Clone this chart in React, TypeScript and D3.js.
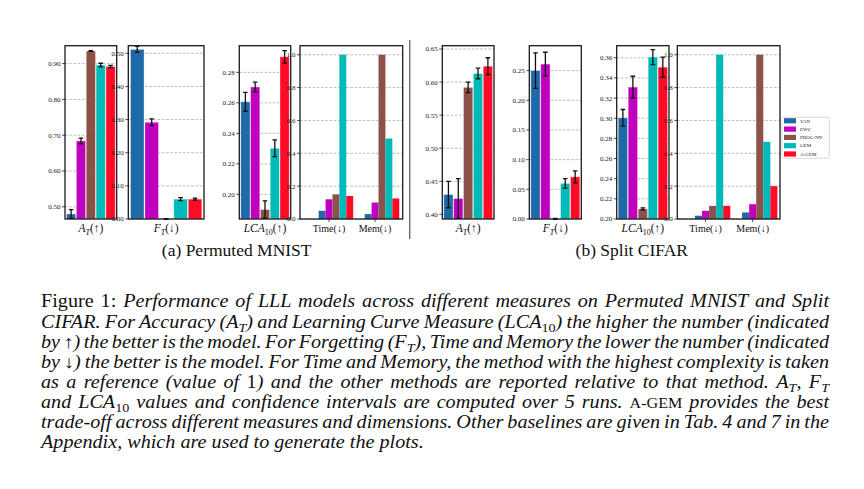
import * as d3 from 'd3';
import { useEffect, useRef } from 'react';

const methods = ['VAN', 'EWC', 'PROG-NN', 'GEM', 'A-GEM'];
const methodColors = ['#1f69a8', '#bf00bf', '#8c5248', '#00b9b9', '#ff0a27'];
const resourceLabels = ['Time(↓)', 'Mem(↓)'];

// Permuted MNIST
const mnistAcc = [0.48, 0.684, 0.935, 0.896, 0.892];
const mnistAccErr = [0.012, 0.008, 0.001, 0.005, 0.003];
const mnistForget = [0.512, 0.292, 0.0, 0.06, 0.06];
const mnistForgetErr = [0.009, 0.01, 0.001, 0.0045, 0.003];
const mnistLca = [0.2607, 0.2704, 0.19, 0.2302, 0.2902];
const mnistLcaErr = [0.0062, 0.0032, 0.0057, 0.0055, 0.0041];
const mnistTime = [0.05, 0.12, 0.15, 1.0, 0.14];
const mnistMem = [0.03, 0.1, 1.0, 0.49, 0.125];

// Split CIFAR
const cifarAcc = [0.43, 0.424, 0.592, 0.613, 0.624];
const cifarAccErr = [0.02, 0.03, 0.008, 0.008, 0.0128];
const cifarForget = [0.25, 0.261, 0.0, 0.06, 0.071];
const cifarForgetErr = [0.03, 0.02, 0.001, 0.008, 0.01];
const cifarLca = [0.3004, 0.3309, 0.21, 0.3607, 0.3507];
const cifarLcaErr = [0.0083, 0.0108, 0.001, 0.0075, 0.01];
const cifarTime = [0.02, 0.05, 0.08, 1.0, 0.08];
const cifarMem = [0.04, 0.09, 1.0, 0.47, 0.2];

const mnistAccTicks = [0.5, 0.6, 0.7, 0.8, 0.9];
const mnistForgetTicks = [0.0, 0.1, 0.2, 0.3, 0.4, 0.5];
const mnistLcaTicks = [0.2, 0.22, 0.24, 0.26, 0.28];
const cifarAccTicks = [0.4, 0.45, 0.5, 0.55, 0.6, 0.65];
const cifarForgetTicks = [0.0, 0.05, 0.1, 0.15, 0.2, 0.25];
const cifarLcaTicks = [0.2, 0.22, 0.24, 0.26, 0.28, 0.3, 0.32, 0.34, 0.36];
const resourceTicks = [0.0, 0.2, 0.4, 0.6, 0.8, 1.0];

type Seg = { t: string; s: 'r' | 'i' | 'sub' | 'subr' | 'sc' };

const labelAcc: Seg[] = [{ t: 'A', s: 'i' }, { t: 'T', s: 'sub' }, { t: '(↑)', s: 'r' }];
const labelForget: Seg[] = [{ t: 'F', s: 'i' }, { t: 'T', s: 'sub' }, { t: '(↓)', s: 'r' }];
const labelLca: Seg[] = [{ t: 'LCA', s: 'i' }, { t: '10', s: 'subr' }, { t: '(↑)', s: 'r' }];

const captionLines: Seg[][] = [
  [{ t: 'Figure 1: ', s: 'r' }, { t: 'Performance of LLL models across different measures on Permuted MNIST and Split', s: 'i' }],
  [
    { t: 'CIFAR. For Accuracy (', s: 'i' }, { t: 'A', s: 'i' }, { t: 'T', s: 'sub' },
    { t: ') and Learning Curve Measure (', s: 'i' }, { t: 'LCA', s: 'i' }, { t: '10', s: 'subr' },
    { t: ') the higher the number (indicated', s: 'i' },
  ],
  [
    { t: 'by ↑) the better is the model. For Forgetting (', s: 'i' }, { t: 'F', s: 'i' }, { t: 'T', s: 'sub' },
    { t: '), Time and Memory the lower the number (indicated', s: 'i' },
  ],
  [{ t: 'by ↓) the better is the model. For Time and Memory, the method with the highest complexity is taken', s: 'i' }],
  [
    { t: 'as a reference (value of ', s: 'i' }, { t: '1', s: 'r' },
    { t: ') and the other methods are reported relative to that method. ', s: 'i' },
    { t: 'A', s: 'i' }, { t: 'T', s: 'sub' }, { t: ', ', s: 'i' }, { t: 'F', s: 'i' }, { t: 'T', s: 'sub' },
  ],
  [
    { t: 'and ', s: 'i' }, { t: 'LCA', s: 'i' }, { t: '10', s: 'subr' },
    { t: ' values and confidence intervals are computed over 5 runs. ', s: 'i' },
    { t: 'A-GEM', s: 'sc' }, { t: ' provides the best', s: 'i' },
  ],
  [{ t: 'trade-off across different measures and dimensions. Other baselines are given in Tab. 4 and 7 in the', s: 'i' }],
  [{ t: 'Appendix, which are used to generate the plots.', s: 'i' }],
];

const FONT = "'Liberation Serif', 'Times New Roman', 'DejaVu Serif', serif";
const TOP = 45.7;
const BOTTOM = 219;

type Panel = {
  x0: number;
  x1: number;
  domain: [number, number];
  ticks: number[];
  fmt: string;
  values?: number[];
  errs?: number[];
  label?: Seg[];
  groups?: number[][];
  gx?: [number, number];
};

const panels: Panel[] = [
  { x0: 65, x1: 116.7, domain: [0.466, 0.95], ticks: mnistAccTicks, fmt: '.2f', values: mnistAcc, errs: mnistAccErr, label: labelAcc },
  { x0: 128.3, x1: 204, domain: [0, 0.523], ticks: mnistForgetTicks, fmt: '.2f', values: mnistForget, errs: mnistForgetErr, label: labelForget },
  { x0: 239.3, x1: 290.7, domain: [0.1838, 0.2975], ticks: mnistLcaTicks, fmt: '.2f', values: mnistLca, errs: mnistLcaErr, label: labelLca },
  { x0: 300, x1: 402.7, domain: [0, 1.055], ticks: resourceTicks, fmt: '.1f', groups: [mnistTime, mnistMem], gx: [-0.63, 1.6] },
  { x0: 442.3, x1: 494, domain: [0.393, 0.655], ticks: cifarAccTicks, fmt: '.2f', values: cifarAcc, errs: cifarAccErr, label: labelAcc },
  { x0: 529.3, x1: 581.3, domain: [0, 0.292], ticks: cifarForgetTicks, fmt: '.2f', values: cifarForget, errs: cifarForgetErr, label: labelForget },
  { x0: 616.7, x1: 669, domain: [0.2, 0.372], ticks: cifarLcaTicks, fmt: '.2f', values: cifarLca, errs: cifarLcaErr, label: labelLca },
  { x0: 677.3, x1: 780, domain: [0, 1.055], ticks: resourceTicks, fmt: '.1f', groups: [cifarTime, cifarMem], gx: [-0.6, 1.58] },
];

function appendSegs(
  text: d3.Selection<SVGTextElement, unknown, null, undefined>,
  segs: Seg[],
  size: number,
) {
  let shift = 0;
  segs.forEach((seg) => {
    const sp = text.append('tspan').text(seg.t);
    const sub = seg.s === 'sub' || seg.s === 'subr';
    const target = sub ? size * 0.25 : 0;
    if (target !== shift) sp.attr('dy', target - shift);
    shift = target;
    sp.attr('font-style', seg.s === 'i' || seg.s === 'sub' ? 'italic' : 'normal');
    if (sub) sp.attr('font-size', size * 0.7);
    if (seg.s === 'sc') sp.attr('font-size', size * 0.8);
  });
}

export default function App() {
  const ref = useRef<SVGSVGElement | null>(null);

  useEffect(() => {
    const svg = d3.select(ref.current);
    svg.selectAll('*').remove();
    svg.append('rect').attr('width', 864).attr('height', 489).attr('fill', '#fff');

    panels.forEach((p, pi) => {
      const g = svg.append('g');
      const y = d3.scaleLinear().domain(p.domain).range([BOTTOM, TOP]);
      const clipId = `clip-${pi}`;
      g.append('clipPath')
        .attr('id', clipId)
        .append('rect')
        .attr('x', p.x0)
        .attr('y', TOP)
        .attr('width', p.x1 - p.x0)
        .attr('height', BOTTOM - TOP + 1);

      // grid
      g.selectAll('line.grid')
        .data(p.ticks)
        .join('line')
        .attr('x1', p.x0)
        .attr('x2', p.x1)
        .attr('y1', (d) => y(d))
        .attr('y2', (d) => y(d))
        .attr('stroke', '#aaaaaa')
        .attr('stroke-width', 0.8)
        .attr('stroke-dasharray', '2.6,1.6');

      const inner = g.append('g').attr('clip-path', `url(#${clipId})`);

      if (p.values && p.errs) {
        const x = d3.scaleBand<number>().domain(d3.range(p.values.length)).range([p.x0, p.x1]).paddingInner(0.06).paddingOuter(0.15);
        const errs = p.errs;
        inner
          .selectAll('rect.bar')
          .data(p.values)
          .join('rect')
          .attr('x', (_, i) => x(i) ?? 0)
          .attr('width', x.bandwidth())
          .attr('y', (d) => y(d))
          .attr('height', (d) => Math.max(0, BOTTOM - y(d)))
          .attr('fill', (_, i) => methodColors[i])
          .attr('stroke', '#ffffff')
          .attr('stroke-opacity', 0.45)
          .attr('stroke-width', 0.8);
        p.values.forEach((v, i) => {
          const cx = (x(i) ?? 0) + x.bandwidth() / 2;
          const lo = y(v - errs[i]);
          const hi = y(v + errs[i]);
          inner.append('line').attr('x1', cx).attr('x2', cx).attr('y1', lo).attr('y2', hi).attr('stroke', '#111').attr('stroke-width', 1.3);
          [lo, hi].forEach((yy) =>
            inner.append('line').attr('x1', cx - 2.3).attr('x2', cx + 2.3).attr('y1', yy).attr('y2', yy).attr('stroke', '#111').attr('stroke-width', 1.3),
          );
        });
        if (p.label) {
          const t = g
            .append('text')
            .attr('x', (p.x0 + p.x1) / 2)
            .attr('y', 232)
            .attr('text-anchor', 'middle')
            .attr('font-family', FONT)
            .attr('font-size', 11.5)
            .attr('fill', '#111');
          appendSegs(t, p.label, 11.5);
        }
      }

      if (p.groups && p.gx) {
        const x = d3.scaleLinear().domain(p.gx).range([p.x0, p.x1]);
        const w = 0.15;
        const bw = x(w) - x(0);
        p.groups.forEach((vals, gi) => {
          inner
            .selectAll(`rect.g${gi}`)
            .data(vals)
            .join('rect')
            .attr('x', (_, i) => x(gi + (i - 1) * w) - bw / 2)
            .attr('width', bw)
            .attr('y', (d) => y(d))
            .attr('height', (d) => BOTTOM - y(d))
            .attr('fill', (_, i) => methodColors[i]);
          g.append('line').attr('x1', x(gi)).attr('x2', x(gi)).attr('y1', BOTTOM).attr('y2', BOTTOM + 3).attr('stroke', '#222').attr('stroke-width', 0.8);
          g.append('text')
            .attr('x', x(gi))
            .attr('y', 232)
            .attr('text-anchor', 'middle')
            .attr('font-family', FONT)
            .attr('font-size', 10)
            .attr('fill', '#111')
            .text(resourceLabels[gi]);
        });
      }

      // frame
      g.append('rect')
        .attr('x', p.x0)
        .attr('y', TOP)
        .attr('width', p.x1 - p.x0)
        .attr('height', BOTTOM - TOP)
        .attr('fill', 'none')
        .attr('stroke', '#1a1a1a')
        .attr('stroke-width', 1.3);

      // y ticks
      const fmt = d3.format(p.fmt);
      p.ticks.forEach((t) => {
        g.append('line').attr('x1', p.x0 - 3).attr('x2', p.x0).attr('y1', y(t)).attr('y2', y(t)).attr('stroke', '#222').attr('stroke-width', 0.8);
        g.append('text')
          .attr('x', p.x0 - 4.5)
          .attr('y', y(t))
          .attr('dy', '0.35em')
          .attr('text-anchor', 'end')
          .attr('font-family', FONT)
          .attr('font-size', 7)
          .attr('fill', '#222')
          .text(fmt(t));
      });
    });

    // divider
    svg.append('line').attr('x1', 409.8).attr('x2', 409.8).attr('y1', 40).attr('y2', 239).attr('stroke', '#333').attr('stroke-width', 1);

    // legend
    const lg = svg.append('g');
    lg.append('rect')
      .attr('x', 782)
      .attr('y', 117.3)
      .attr('width', 47.3)
      .attr('height', 41)
      .attr('rx', 1.5)
      .attr('fill', '#fff')
      .attr('stroke', '#d0d0d0')
      .attr('stroke-width', 0.8);
    methods.forEach((m, i) => {
      const cy = 120.8 + i * 8.3;
      lg.append('rect').attr('x', 784).attr('y', cy - 2.6).attr('width', 12).attr('height', 5.2).attr('fill', methodColors[i]);
      lg.append('text')
        .attr('x', 800)
        .attr('y', cy)
        .attr('dy', '0.35em')
        .attr('font-family', FONT)
        .attr('font-size', 5)
        .attr('fill', '#222')
        .text(m);
    });

    // sub captions
    [
      { t: '(a) Permuted MNIST', x: 236.7 },
      { t: '(b) Split CIFAR', x: 631.8 },
    ].forEach((c) =>
      svg
        .append('text')
        .attr('x', c.x)
        .attr('y', 255.5)
        .attr('text-anchor', 'middle')
        .attr('font-family', FONT)
        .attr('font-size', 17.5)
        .attr('fill', '#111')
        .text(c.t),
    );

    // caption, justified; the reference face is a little wider than Liberation Serif
    const left = 41;
    const right = 829;
    const sx = 1.12;
    const size = 18;
    const cap = svg.append('g').attr('transform', `translate(${left},0) scale(${sx},1)`);
    const target = (right - left) / sx;
    captionLines.forEach((segs, li) => {
      const t = cap
        .append('text')
        .attr('x', 0)
        .attr('y', 307.5 + li * 20.05)
        .attr('font-family', FONT)
        .attr('font-size', size)
        .attr('fill', '#111');
      appendSegs(t, segs, size);
      if (li < captionLines.length - 1) {
        const node = t.node() as SVGTextElement;
        const natural = node.getComputedTextLength();
        const full = segs.map((s) => s.t).join('');
        const spaces = (full.match(/ /g) || []).length;
        if (spaces > 0) t.style('word-spacing', `${(target - natural) / spaces}px`);
      }
    });
  }, []);

  return (
    <svg
      ref={ref}
      width={864}
      height={489}
      style={{ position: 'absolute', left: 0, top: 0 }}
      role="img"
      aria-label="LLL model performance on Permuted MNIST and Split CIFAR"
    />
  );
}
